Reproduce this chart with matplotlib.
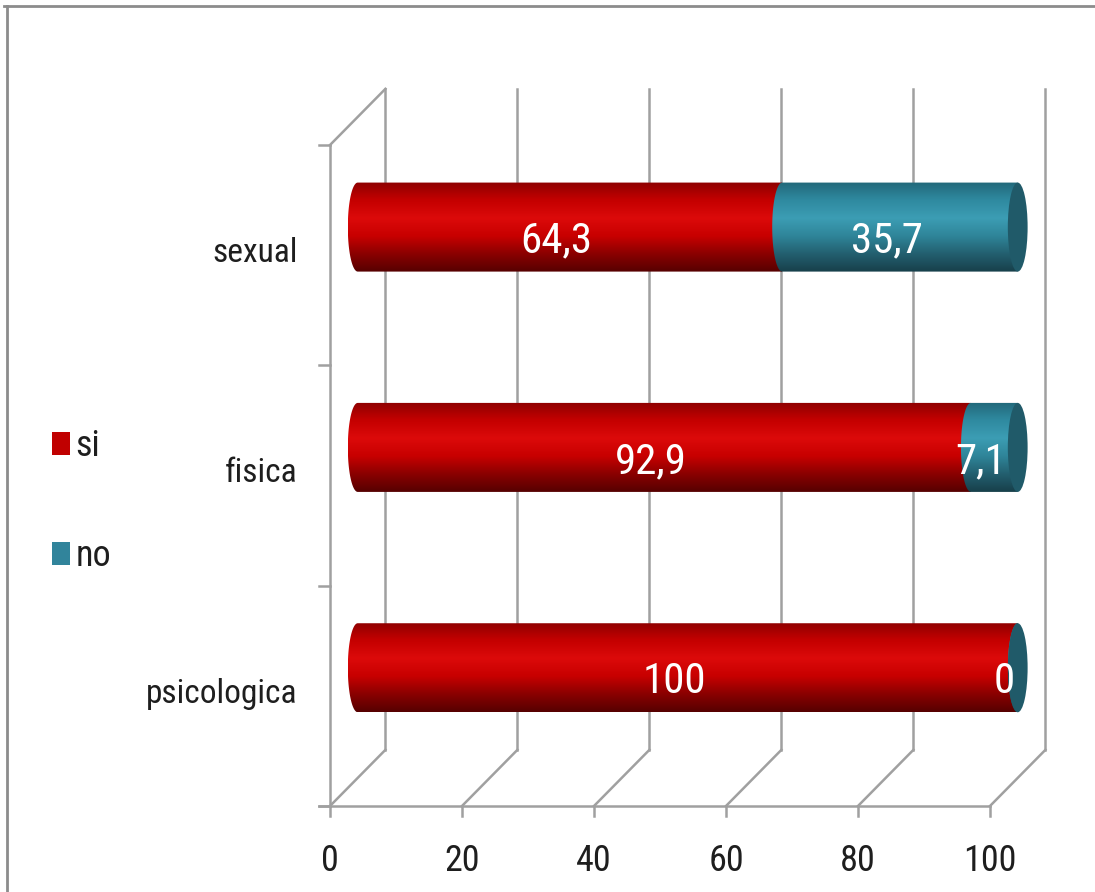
import numpy as np
import matplotlib
matplotlib.use('Agg')
import matplotlib.pyplot as plt
from matplotlib.patches import Polygon, Ellipse, Patch
from matplotlib.lines import Line2D

plt.rcParams['font.family'] = ['Roboto Condensed', 'DejaVu Sans']
plt.rcParams['font.stretch'] = 'condensed'

categories = ['psicologica', 'fisica', 'sexual']
si = [100, 92.9, 64.3]
no = [0, 7.1, 35.7]
series = ['si', 'no']
xticks = [0, 20, 40, 60, 80, 100]

# fake 3d geometry (x in percent units, y in category units)
DX, DY = 8.4, 0.255
HALF_H = 0.202
CAP_A = 1.5

red_stops = ['#8e0000', '#c40000', '#dc0a0a', '#c80000', '#8a0000', '#560000']
teal_stops = ['#22687a', '#2f8aa0', '#3c9db4', '#2f8599', '#235f6f', '#173f4a']
cap_color = '#205a69'
grid_color = '#a0a0a0'
text_color = '#1e1e1e'


def fmt(v):
    return f'{v:g}'.replace('.', ',')


def gradient(stops, n=200):
    rgb = np.array([matplotlib.colors.to_rgb(c) for c in stops])
    pos = np.linspace(0, 1, len(stops))
    t = np.linspace(0, 1, n)
    cols = np.stack([np.interp(t, pos, rgb[:, i]) for i in range(3)], axis=1)
    return cols[:, None, :]


def cylinder_body(ax, x0, x1, yc, stops):
    t = np.linspace(np.pi / 2, 3 * np.pi / 2, 60)
    arc = np.column_stack([x0 + CAP_A * np.cos(t), yc + HALF_H * np.sin(t)])
    pts = np.vstack([arc, [[x1, yc - HALF_H], [x1, yc + HALF_H]]])
    poly = Polygon(pts, closed=True, transform=ax.transData)
    im = ax.imshow(gradient(stops), extent=[x0 - CAP_A, x1 + CAP_A, yc - HALF_H, yc + HALF_H],
                   origin='upper', aspect='auto', interpolation='bilinear', zorder=3)
    im.set_clip_path(poly)


fig = plt.figure(figsize=(10.95, 8.92), dpi=100)
ax = fig.add_axes([0, 0, 1, 1])
ax.axis('off')

y0, y1 = -0.5, len(categories) - 0.5

# back wall gridlines and floor diagonals
for v in xticks:
    ax.plot([v + DX, v + DX], [y0 + DY, y1 + DY], color=grid_color, lw=1.8, zorder=1)
    ax.plot([v, v + DX], [y0, y0 + DY], color=grid_color, lw=1.8, zorder=1)
    ax.plot([v, v], [y0, y0 - 0.045], color=grid_color, lw=1.8, zorder=1)
    ax.text(v, y0 - 0.25, str(v), ha='center', va='center', fontsize=26, color=text_color)

# front floor edge and left side wall
ax.plot([-1.6, xticks[-1]], [y0, y0], color=grid_color, lw=1.8, zorder=1)
ax.plot([0, 0], [y0, y1], color=grid_color, lw=1.8, zorder=1)
ax.plot([0, DX], [y1, y1 + DY], color=grid_color, lw=1.8, zorder=1)
for k in range(len(categories) + 1):
    ax.plot([-1.6, 0], [y0 + k, y0 + k], color=grid_color, lw=1.8, zorder=1)

for k, cat in enumerate(categories):
    ax.text(-4.9, k + 0.01, cat, ha='right', va='center', fontsize=24, color=text_color)
    yc = k + DY / 2
    xs = DX / 2
    cylinder_body(ax, xs, xs + si[k], yc, red_stops)
    cylinder_body(ax, xs + si[k], xs + si[k] + no[k], yc, teal_stops)
    ax.add_patch(Ellipse((xs + si[k] + no[k], yc), 2 * CAP_A, 2 * HALF_H,
                         facecolor=cap_color, edgecolor='none', zorder=4))
    ax.text(xs + si[k] / 2 - 2, yc - 0.064, fmt(si[k]), ha='center', va='center',
            fontsize=31, color='white', zorder=5)
    ax.text(xs + si[k] + no[k] / 2 - 2, yc - 0.064, fmt(no[k]), ha='center', va='center',
            fontsize=31, color='white', zorder=5)

handles = [Patch(facecolor='#c00000'), Patch(facecolor='#31849b')]
ax.legend(handles, series, loc='upper left', bbox_to_anchor=(0.031, 0.54), frameon=False,
          fontsize=26, handlelength=0.5, handleheight=0.62, handletextpad=0.15,
          labelspacing=2.05, borderpad=0, labelcolor=text_color)

ax.set_xlim(-330 / 6.6, (1095 - 330) / 6.6)
ax.set_ylim(-0.5 - 86 / 220.33, -0.5 + 806 / 220.33)

# chart frame
fig.add_artist(Line2D([4 / 1095, 1], [1 - 6 / 892] * 2, transform=fig.transFigure,
                      color='#8c8c8c', lw=2))
fig.add_artist(Line2D([7 / 1095] * 2, [0, 1 - 6 / 892], transform=fig.transFigure,
                      color='#8c8c8c', lw=2))

fig.savefig('out.png', dpi=100)
